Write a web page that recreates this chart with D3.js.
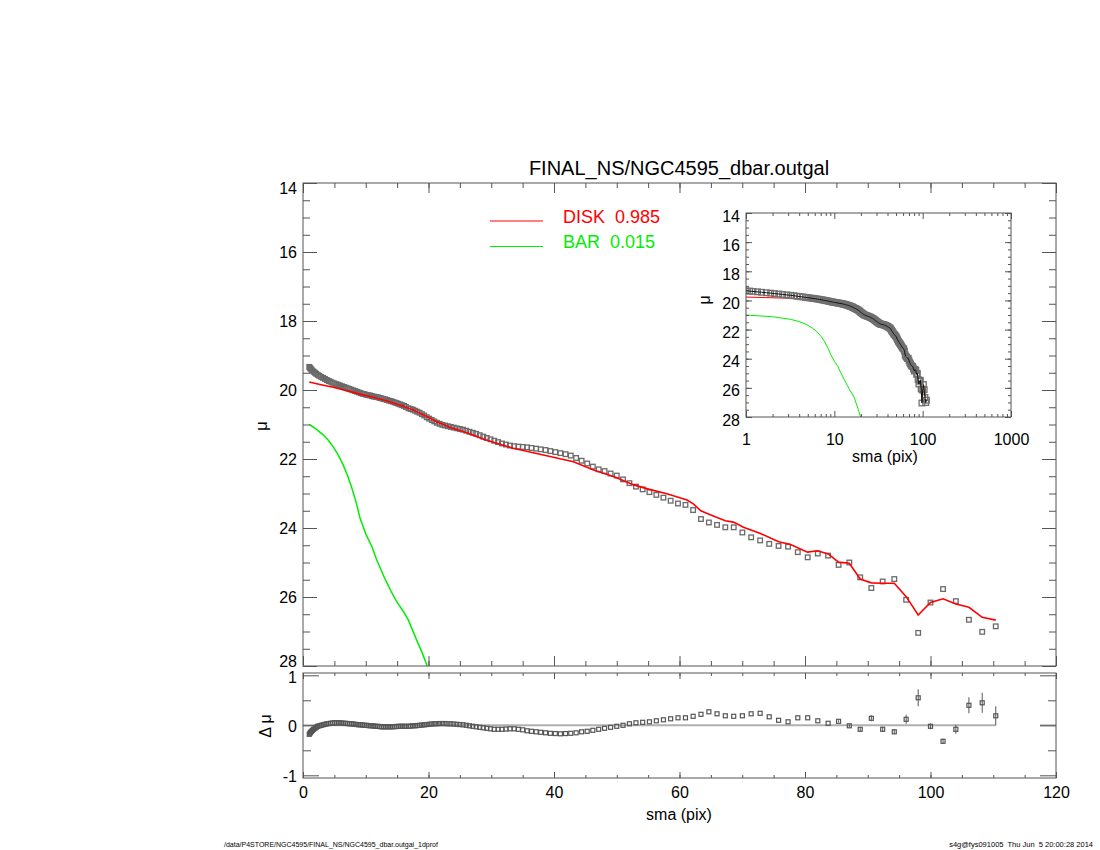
<!DOCTYPE html>
<html>
<head>
<meta charset="utf-8">
<script src="https://cdn.jsdelivr.net/npm/d3@7"></script>
<style>
  body { margin: 0; background: #fff; }
  svg text { font-family: "Liberation Sans", Arial, Helvetica, sans-serif; fill: #000; }
</style>
</head>
<body>
<svg id="chart" width="1100" height="850"></svg>
<script>
// observed profile: semi-major axis (pix), surface brightness, residual (data - model)
let sma = [
  1.0, 1.1, 1.2, 1.35, 1.5, 1.7, 1.9, 2.1, 2.35, 2.6, 2.9, 3.2, 3.5, 3.8, 4.1, 4.4, 4.7, 5.0, 5.3, 5.6,
  5.9, 6.2, 6.5, 6.8, 7.1, 7.4, 7.7, 8.0, 8.3, 8.6, 8.9, 9.2, 9.5, 9.8, 10.1, 10.4, 10.7, 11.0, 11.3, 11.6,
  11.9, 12.2, 12.5, 12.8, 13.1, 13.4, 13.7, 14.0, 14.3, 14.6, 14.9, 15.2, 15.5, 15.8, 16.1, 16.4,
  16.83, 17.16, 17.51, 17.86, 18.21, 18.58, 18.95, 19.33, 19.72, 20.11, 20.51, 20.92, 21.34, 21.77, 22.20, 22.65,
  23.10, 23.56, 24.03, 24.51, 25.00, 25.50, 26.01, 26.53, 27.06, 27.60, 28.16, 28.72, 29.29, 29.88, 30.48, 31.09,
  31.71, 32.34, 32.99, 33.65, 34.32, 35.01, 35.71, 36.42, 37.15, 37.89, 38.65, 39.42, 40.21, 41.02, 41.84, 42.67,
  43.53, 44.40, 45.29, 46.19, 47.12, 48.06, 49.02, 50.00, 51.00, 52.02, 53.06, 54.13, 55.21, 56.31, 57.44, 58.59,
  59.76, 60.95, 62.17, 63.42, 64.68, 65.98, 67.30, 68.64, 70.02, 71.42, 72.85, 74.30, 75.79, 77.30, 78.85, 80.43,
  82.04, 83.68, 85.35, 87.06, 88.80, 90.57, 92.38, 94.23, 96.12, 98.04, 100.0, 102.0, 104.04, 106.12, 108.24, 110.4
]
let mu = [
  19.33, 19.36, 19.38, 19.41, 19.44, 19.47, 19.50, 19.53, 19.56, 19.59, 19.62, 19.65, 19.68, 19.71, 19.74, 19.76, 19.79, 19.81, 19.83, 19.85,
  19.87, 19.89, 19.91, 19.93, 19.95, 19.97, 19.99, 20.01, 20.03, 20.05, 20.07, 20.09, 20.11, 20.12, 20.14, 20.15, 20.16, 20.18, 20.19, 20.20,
  20.21, 20.23, 20.24, 20.26, 20.27, 20.29, 20.31, 20.32, 20.34, 20.36, 20.38, 20.40, 20.42, 20.44, 20.46, 20.49,
  20.53, 20.55, 20.57, 20.60, 20.63, 20.66, 20.70, 20.74, 20.79, 20.83, 20.87, 20.91, 20.95, 20.98, 21.01, 21.03,
  21.05, 21.07, 21.09, 21.11, 21.13, 21.15, 21.18, 21.21, 21.24, 21.27, 21.31, 21.35, 21.39, 21.43, 21.47, 21.51,
  21.55, 21.58, 21.61, 21.63, 21.64, 21.65, 21.66, 21.68, 21.70, 21.72, 21.74, 21.77, 21.80, 21.83, 21.86, 21.90,
  21.97, 22.05, 22.13, 22.22, 22.30, 22.35, 22.42, 22.48, 22.59, 22.70, 22.80, 22.88, 22.96, 23.04, 23.12, 23.21,
  23.29, 23.33, 23.48, 23.74, 23.84, 23.91, 23.98, 23.98, 24.13, 24.27, 24.36, 24.46, 24.52, 24.54, 24.70, 24.85,
  24.74, 24.80, 25.07, 25.00, 25.43, 25.74, 25.55, 25.48, 26.08, 27.04, 26.16, 25.77, 26.12, 26.66, 27.01, 26.85
]
let dmu = [
  -0.18, -0.16, -0.14, -0.12, -0.10, -0.08, -0.06, -0.04, -0.02, -0.01, 0.00, 0.01, 0.02, 0.03, 0.035, 0.04, 0.045, 0.05, 0.05, 0.05,
  0.05, 0.045, 0.04, 0.04, 0.035, 0.03, 0.03, 0.025, 0.02, 0.015, 0.01, 0.01, 0.005, 0.00, 0.00, -0.005, -0.01, -0.01, -0.015, -0.02,
  -0.02, -0.025, -0.03, -0.03, -0.03, -0.03, -0.03, -0.03, -0.03, -0.025, -0.025, -0.02, -0.02, -0.02, -0.02, -0.02,
  -0.02, -0.015, -0.01, -0.01, -0.005, 0.00, 0.005, 0.01, 0.015, 0.02, 0.025, 0.03, 0.03, 0.035, 0.035, 0.035,
  0.03, 0.03, 0.025, 0.02, 0.015, 0.01, 0.00, -0.01, -0.02, -0.03, -0.04, -0.05, -0.06, -0.07, -0.08, -0.08,
  -0.08, -0.075, -0.07, -0.07, -0.08, -0.09, -0.11, -0.12, -0.13, -0.14, -0.15, -0.16, -0.165, -0.17, -0.165, -0.16,
  -0.15, -0.13, -0.12, -0.10, -0.08, -0.06, -0.04, -0.02, 0.00, 0.03, 0.05, 0.06, 0.07, 0.09, 0.11, 0.13,
  0.15, 0.15, 0.18, 0.22, 0.27, 0.23, 0.19, 0.18, 0.19, 0.23, 0.24, 0.17, 0.10, 0.07, 0.15, 0.15,
  0.09, 0.04, 0.08, -0.01, -0.08, 0.14, -0.08, -0.13, 0.12, 0.55, -0.02, -0.32, -0.08, 0.40, 0.45, 0.19
]

// residual error bars (outer isophotes only)
let errSma = [85.35, 87.06, 88.80, 90.57, 92.38, 94.23, 96.12, 98.04, 100.0, 102.0, 104.04, 106.12, 108.24, 110.4]
let errVal = [0.02, 0.03, 0.04, 0.06, 0.05, 0.05, 0.09, 0.17, 0.06, 0.05, 0.09, 0.16, 0.20, 0.19]

// model components
let diskSma = [1.0, 2.7, 4.8, 7.0, 9.1, 11.2, 13.3, 15.5, 17.6, 19.7, 21.3, 23.4, 26.1, 28.8, 31.4, 33.5, 36.7, 39.9, 43.1, 46.3,
  49.8, 52.7, 55.2, 58.0, 61.2, 62.2, 63.4, 65.0, 67.3, 68.6, 70.2, 72.9, 75.8, 77.7, 80.4, 82.0, 83.7, 85.35, 87.06, 88.8,
  90.57, 92.38, 94.23, 96.12, 98.04, 100.0, 102.0, 104.04, 106.12, 108.24, 110.4]
let diskMu = [19.77, 19.84, 19.92, 20.02, 20.12, 20.21, 20.31, 20.44, 20.58, 20.77, 20.92, 21.08, 21.24, 21.43, 21.57, 21.69, 21.82, 21.95, 22.08, 22.32,
  22.53, 22.75, 22.88, 23.01, 23.19, 23.30, 23.50, 23.62, 23.79, 23.83, 23.98, 24.16, 24.40, 24.48, 24.70, 24.66, 24.75, 24.99, 25.02, 25.48,
  25.59, 25.60, 25.60, 25.99, 26.52, 26.16, 26.05, 26.20, 26.30, 26.59, 26.67]
let barSma = [1.0, 2.0, 3.2, 4.0, 4.8, 5.6, 6.4, 7.1, 7.8, 8.5, 9.1, 10.0, 11.0, 11.75, 13.0, 14.0, 14.9, 16.0, 16.8, 18.0, 19.0, 19.8]
let barMu = [21.0, 21.12, 21.30, 21.45, 21.64, 21.88, 22.17, 22.48, 22.85, 23.28, 23.72, 24.17, 24.55, 24.93, 25.45, 25.82, 26.13, 26.42, 26.67, 27.2, 27.62, 28.0]

let legendNames = ['DISK  0.985', 'BAR  0.015']
let legendColors = ['#ff0000', '#00ee00']

let title = 'FINAL_NS/NGC4595_dbar.outgal'
let footLeft = '/data/P4STORE/NGC4595/FINAL_NS/NGC4595_dbar.outgal_1dprof'
let footRight = 's4g@fys091005  Thu Jun  5 20:00:28 2014'

let axisColor = '#555'
let svg = d3.select('#chart')

let points = sma.map((s, i) => ({ sma: s, mu: mu[i], dmu: dmu[i] }))
let disk = diskSma.map((s, i) => [s, diskMu[i]])
let bar = barSma.map((s, i) => [s, barMu[i]])

// scales
let x = d3.scaleLinear().domain([0, 120]).range([303, 1056])
let y = d3.scaleLinear().domain([28, 14]).range([666, 183])
let yr = d3.scaleLinear().domain([-1.054, 1.046]).range([778, 673])
let xi = d3.scaleLog().domain([1, 1000]).range([746, 1011])
let yi = d3.scaleLinear().domain([28, 14]).range([417, 213])

function drawFrame(xs, ys, cfg) {
  let [x0, x1] = xs.range()
  let [y0, y1] = ys.range()
  let sides = [
    { axis: d3.axisBottom, scale: xs, pos: `translate(0,${y0})`, major: cfg.xMajor, minor: cfg.xMinor, len: cfg.xLen, labels: cfg.xLabels, pad: cfg.xPad },
    { axis: d3.axisTop, scale: xs, pos: `translate(0,${y1})`, major: cfg.xMajor, minor: cfg.xMinor, len: cfg.xLen, labels: false },
    { axis: d3.axisLeft, scale: ys, pos: `translate(${x0},0)`, major: cfg.yMajor, minor: cfg.yMinor, len: cfg.yLen, labels: true, pad: cfg.yPad, dy: cfg.yDy, shift: cfg.yShift },
    { axis: d3.axisRight, scale: ys, pos: `translate(${x1},0)`, major: cfg.yMajor, minor: cfg.yMinor, len: cfg.yLen, labels: false }
  ]
  sides.forEach(s => {
    ;[[s.minor, s.len[1], false], [s.major, s.len[0], s.labels]].forEach(([vals, len, lab]) => {
      let g = svg.append('g').attr('transform', s.pos)
        .call(s.axis(s.scale)
          .tickValues(vals)
          .tickSize(-len)
          .tickPadding(s.pad || 0)
          .tickFormat(lab ? d => String(d) : () => ''))
      g.select('.domain').remove()
      g.selectAll('line').attr('stroke', axisColor)
      g.attr('font-size', cfg.fontSize).attr('font-family', null)
      if (lab && s.dy) g.selectAll('text').attr('dy', s.dy)
      if (lab && s.shift) g.selectAll('text').attr('y', d => s.shift(d))
    })
  })
  svg.append('rect')
    .attr('x', x0).attr('y', y1)
    .attr('width', x1 - x0).attr('height', y0 - y1)
    .attr('fill', 'none').attr('stroke', axisColor).attr('stroke-width', 1)
}

let line = (xs, ys) => d3.line().x(d => xs(d[0])).y(d => ys(d[1]))

// ---------- main panel ----------
svg.append('clipPath').attr('id', 'clipMain').append('rect')
  .attr('x', 303).attr('y', 183).attr('width', 753).attr('height', 483)

let main = svg.append('g').attr('clip-path', 'url(#clipMain)')

main.selectAll('rect.pt')
  .data(points)
  .enter()
  .append('rect')
  .attr('class', 'pt')
  .attr('x', d => x(d.sma) - 2.3)
  .attr('y', d => y(d.mu) - 2.3)
  .attr('width', 4.6)
  .attr('height', 4.6)
  .attr('fill', 'none')
  .attr('stroke', '#6a6a6a')
  .attr('stroke-width', 1.3)

main.append('path')
  .datum(disk)
  .attr('d', line(x, y))
  .attr('fill', 'none')
  .attr('stroke', legendColors[0])
  .attr('stroke-width', 1.6)

main.append('path')
  .datum(bar)
  .attr('d', line(x, y))
  .attr('fill', 'none')
  .attr('stroke', legendColors[1])
  .attr('stroke-width', 1.5)

drawFrame(x, y, {
  xMajor: d3.range(0, 121, 20), xMinor: d3.range(0, 121, 5), xLen: [10, 5], xLabels: false,
  yMajor: d3.range(14, 29, 2), yMinor: d3.range(14, 28.01, 0.5), yLen: [14, 7], yPad: 6, yDy: '0.36em',
  yShift: d => d === 14 ? 5 : d === 28 ? -5 : 0,
  fontSize: 16
})

svg.append('text')
  .attr('x', 679).attr('y', 175)
  .attr('text-anchor', 'middle')
  .attr('font-size', 20)
  .text(title)

svg.append('text')
  .attr('transform', 'translate(267,426) rotate(-90)')
  .attr('text-anchor', 'middle')
  .attr('font-size', 17)
  .text('μ')

// legend
let legend = svg.append('g')
  .selectAll('g')
  .data(legendNames)
  .enter()
  .append('g')
  .attr('transform', (d, i) => `translate(0, ${221 + i * 25.5})`)

legend.append('line')
  .attr('x1', 490).attr('x2', 543)
  .attr('stroke', (d, i) => legendColors[i])
  .attr('stroke-width', 1)

legend.append('text')
  .attr('x', 563).attr('y', 1.5)
  .attr('font-size', 18)
  .style('fill', (d, i) => legendColors[i])
  .style('white-space', 'pre')
  .text(d => d)

// ---------- residual panel ----------
svg.append('line')
  .attr('x1', x(0)).attr('x2', x(110.4))
  .attr('y1', yr(0)).attr('y2', yr(0))
  .attr('stroke', '#b0b0b0').attr('stroke-width', 2)

svg.append('line')
  .attr('x1', x(120) - 16).attr('x2', x(120))
  .attr('y1', yr(0)).attr('y2', yr(0))
  .attr('stroke', '#b0b0b0').attr('stroke-width', 2)

let dmuBySma = new Map(points.map(p => [p.sma, p.dmu]))
svg.append('g')
  .selectAll('line')
  .data(errSma)
  .enter()
  .append('line')
  .attr('x1', d => x(d)).attr('x2', d => x(d))
  .attr('y1', (d, i) => yr(dmuBySma.get(d) - errVal[i]))
  .attr('y2', (d, i) => yr(dmuBySma.get(d) + errVal[i]))
  .attr('stroke', '#555')
  .attr('stroke-width', 1)

svg.append('g')
  .selectAll('rect')
  .data(points)
  .enter()
  .append('rect')
  .attr('x', d => x(d.sma) - 2)
  .attr('y', d => yr(d.dmu) - 2)
  .attr('width', 4)
  .attr('height', 4)
  .attr('fill', 'none')
  .attr('stroke', '#555')
  .attr('stroke-width', 1.2)

drawFrame(x, yr, {
  xMajor: d3.range(0, 121, 20), xMinor: d3.range(0, 121, 5), xLen: [6, 3], xLabels: true, xPad: 9,
  yMajor: [-1, 0, 1], yMinor: [-0.5, 0.5], yLen: [16, 8], yPad: 6, yDy: '0.4em',
  yShift: d => d === 1 ? 1 : 0,
  fontSize: 16
})

svg.append('text')
  .attr('x', 679).attr('y', 820)
  .attr('text-anchor', 'middle')
  .attr('font-size', 16)
  .text('sma (pix)')

svg.append('text')
  .attr('transform', 'translate(271,726) rotate(-90)')
  .attr('text-anchor', 'middle')
  .attr('font-size', 16)
  .style('white-space', 'pre')
  .text('Δ μ')

// ---------- inset (log sma) ----------
svg.append('rect')
  .attr('x', 746).attr('y', 213).attr('width', 265).attr('height', 204)
  .attr('fill', '#fff')

svg.append('clipPath').attr('id', 'clipInset').append('rect')
  .attr('x', 746).attr('y', 213).attr('width', 265).attr('height', 204)

let inset = svg.append('g').attr('clip-path', 'url(#clipInset)')

inset.append('path')
  .datum(disk)
  .attr('d', line(xi, yi))
  .attr('fill', 'none')
  .attr('stroke', legendColors[0])
  .attr('stroke-width', 1)

inset.append('path')
  .datum(bar)
  .attr('d', line(xi, yi))
  .attr('fill', 'none')
  .attr('stroke', legendColors[1])
  .attr('stroke-width', 1)

inset.selectAll('rect.pt')
  .data(points)
  .enter()
  .append('rect')
  .attr('class', 'pt')
  .attr('x', d => xi(d.sma) - 2.8)
  .attr('y', d => yi(d.mu) - 2.8)
  .attr('width', 5.6)
  .attr('height', 5.6)
  .attr('fill', 'none')
  .attr('stroke', '#707070')
  .attr('stroke-width', 1.3)

inset.append('path')
  .datum(points.map(p => [p.sma, p.mu]))
  .attr('d', line(xi, yi))
  .attr('fill', 'none')
  .attr('stroke', '#111')
  .attr('stroke-width', 1)

let logMinor = []
;[1, 10, 100].forEach(dec => [2, 3, 4, 5, 6, 7, 8, 9].forEach(m => logMinor.push(dec * m)))

drawFrame(xi, yi, {
  xMajor: [1, 10, 100, 1000], xMinor: logMinor, xLen: [6, 3], xLabels: true, xPad: 17,
  yMajor: d3.range(14, 29, 2), yMinor: d3.range(14, 28.01, 0.5), yLen: [6, 3], yPad: 6, yDy: '0.5em',
  fontSize: 16
})

svg.append('text')
  .attr('x', 885).attr('y', 462)
  .attr('text-anchor', 'middle')
  .attr('font-size', 16)
  .text('sma (pix)')

svg.append('text')
  .attr('transform', 'translate(710,300) rotate(-90)')
  .attr('text-anchor', 'middle')
  .attr('font-size', 16)
  .text('μ')

// ---------- footer ----------
svg.append('text')
  .attr('x', 224).attr('y', 847)
  .attr('font-size', 7)
  .text(footLeft)

svg.append('text')
  .attr('x', 1093).attr('y', 847)
  .attr('text-anchor', 'end')
  .attr('font-size', 7.5)
  .style('white-space', 'pre')
  .text(footRight)
</script>
</body>
</html>
